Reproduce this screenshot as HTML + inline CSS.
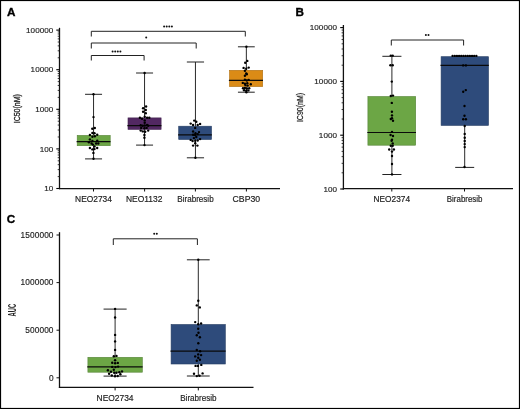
<!DOCTYPE html><html><head><meta charset="utf-8"><style>html,body{margin:0;padding:0;background:#fff;}svg{display:block;will-change:transform;}text{font-family:"Liberation Sans", sans-serif;}</style></head><body>
<svg width="520" height="409" viewBox="0 0 520 409">
<rect x="0" y="0" width="520" height="409" fill="#fff"/>
<rect x="0.5" y="0.5" width="519" height="408" fill="none" stroke="#000" stroke-width="1.2"/>
<text x="7.1" y="15.8" text-anchor="start" font-size="11.7" font-weight="bold" fill="#000" stroke="#000" stroke-width="0.35">A</text>
<line x1="59.50" y1="27.80" x2="59.50" y2="189.20" stroke="#111" stroke-width="1.3"/>
<line x1="56.30" y1="188.50" x2="59.50" y2="188.50" stroke="#000" stroke-width="1.1"/>
<text x="53.35" y="191.20" text-anchor="end" font-size="8.1" letter-spacing="0.05" fill="#222" stroke="#222" stroke-width="0.15">10</text>
<line x1="57.70" y1="176.58" x2="59.50" y2="176.58" stroke="#222" stroke-width="0.9"/>
<line x1="57.70" y1="169.61" x2="59.50" y2="169.61" stroke="#222" stroke-width="0.9"/>
<line x1="57.70" y1="164.66" x2="59.50" y2="164.66" stroke="#222" stroke-width="0.9"/>
<line x1="57.70" y1="160.82" x2="59.50" y2="160.82" stroke="#222" stroke-width="0.9"/>
<line x1="57.70" y1="157.69" x2="59.50" y2="157.69" stroke="#222" stroke-width="0.9"/>
<line x1="57.70" y1="155.03" x2="59.50" y2="155.03" stroke="#222" stroke-width="0.9"/>
<line x1="57.70" y1="152.74" x2="59.50" y2="152.74" stroke="#222" stroke-width="0.9"/>
<line x1="57.70" y1="150.71" x2="59.50" y2="150.71" stroke="#222" stroke-width="0.9"/>
<line x1="56.30" y1="148.90" x2="59.50" y2="148.90" stroke="#000" stroke-width="1.1"/>
<text x="53.35" y="151.60" text-anchor="end" font-size="8.1" letter-spacing="0.05" fill="#222" stroke="#222" stroke-width="0.15">100</text>
<line x1="57.70" y1="136.98" x2="59.50" y2="136.98" stroke="#222" stroke-width="0.9"/>
<line x1="57.70" y1="130.01" x2="59.50" y2="130.01" stroke="#222" stroke-width="0.9"/>
<line x1="57.70" y1="125.06" x2="59.50" y2="125.06" stroke="#222" stroke-width="0.9"/>
<line x1="57.70" y1="121.22" x2="59.50" y2="121.22" stroke="#222" stroke-width="0.9"/>
<line x1="57.70" y1="118.09" x2="59.50" y2="118.09" stroke="#222" stroke-width="0.9"/>
<line x1="57.70" y1="115.43" x2="59.50" y2="115.43" stroke="#222" stroke-width="0.9"/>
<line x1="57.70" y1="113.14" x2="59.50" y2="113.14" stroke="#222" stroke-width="0.9"/>
<line x1="57.70" y1="111.11" x2="59.50" y2="111.11" stroke="#222" stroke-width="0.9"/>
<line x1="56.30" y1="109.30" x2="59.50" y2="109.30" stroke="#000" stroke-width="1.1"/>
<text x="53.35" y="112.00" text-anchor="end" font-size="8.1" letter-spacing="0.05" fill="#222" stroke="#222" stroke-width="0.15">1000</text>
<line x1="57.70" y1="97.38" x2="59.50" y2="97.38" stroke="#222" stroke-width="0.9"/>
<line x1="57.70" y1="90.41" x2="59.50" y2="90.41" stroke="#222" stroke-width="0.9"/>
<line x1="57.70" y1="85.46" x2="59.50" y2="85.46" stroke="#222" stroke-width="0.9"/>
<line x1="57.70" y1="81.62" x2="59.50" y2="81.62" stroke="#222" stroke-width="0.9"/>
<line x1="57.70" y1="78.49" x2="59.50" y2="78.49" stroke="#222" stroke-width="0.9"/>
<line x1="57.70" y1="75.83" x2="59.50" y2="75.83" stroke="#222" stroke-width="0.9"/>
<line x1="57.70" y1="73.54" x2="59.50" y2="73.54" stroke="#222" stroke-width="0.9"/>
<line x1="57.70" y1="71.51" x2="59.50" y2="71.51" stroke="#222" stroke-width="0.9"/>
<line x1="56.30" y1="69.70" x2="59.50" y2="69.70" stroke="#000" stroke-width="1.1"/>
<text x="53.35" y="72.40" text-anchor="end" font-size="8.1" letter-spacing="0.05" fill="#222" stroke="#222" stroke-width="0.15">10000</text>
<line x1="57.70" y1="57.78" x2="59.50" y2="57.78" stroke="#222" stroke-width="0.9"/>
<line x1="57.70" y1="50.81" x2="59.50" y2="50.81" stroke="#222" stroke-width="0.9"/>
<line x1="57.70" y1="45.86" x2="59.50" y2="45.86" stroke="#222" stroke-width="0.9"/>
<line x1="57.70" y1="42.02" x2="59.50" y2="42.02" stroke="#222" stroke-width="0.9"/>
<line x1="57.70" y1="38.89" x2="59.50" y2="38.89" stroke="#222" stroke-width="0.9"/>
<line x1="57.70" y1="36.23" x2="59.50" y2="36.23" stroke="#222" stroke-width="0.9"/>
<line x1="57.70" y1="33.94" x2="59.50" y2="33.94" stroke="#222" stroke-width="0.9"/>
<line x1="57.70" y1="31.91" x2="59.50" y2="31.91" stroke="#222" stroke-width="0.9"/>
<line x1="56.30" y1="30.10" x2="59.50" y2="30.10" stroke="#000" stroke-width="1.1"/>
<text x="53.35" y="32.80" text-anchor="end" font-size="8.1" letter-spacing="0.05" fill="#222" stroke="#222" stroke-width="0.15">100000</text>
<line x1="58.90" y1="188.60" x2="280.00" y2="188.60" stroke="#111" stroke-width="1.3"/>
<line x1="93.50" y1="188.60" x2="93.50" y2="191.50" stroke="#111" stroke-width="1"/>
<text x="93.5" y="202" text-anchor="middle" font-size="8.6" textLength="36.80" lengthAdjust="spacingAndGlyphs" fill="#222" stroke="#222" stroke-width="0.18">NEO2734</text>
<line x1="144.60" y1="188.60" x2="144.60" y2="191.50" stroke="#111" stroke-width="1"/>
<text x="144.2" y="202" text-anchor="middle" font-size="8.6" textLength="36.45" lengthAdjust="spacingAndGlyphs" fill="#222" stroke="#222" stroke-width="0.18">NEO1132</text>
<line x1="195.40" y1="188.60" x2="195.40" y2="191.50" stroke="#111" stroke-width="1"/>
<text x="195.5" y="202" text-anchor="middle" font-size="8.6" textLength="36.30" lengthAdjust="spacingAndGlyphs" fill="#222" stroke="#222" stroke-width="0.18">Birabresib</text>
<line x1="246.40" y1="188.60" x2="246.40" y2="191.50" stroke="#111" stroke-width="1"/>
<text x="246.35" y="202" text-anchor="middle" font-size="8.6" textLength="27.60" lengthAdjust="spacingAndGlyphs" fill="#222" stroke="#222" stroke-width="0.18">CBP30</text>
<text transform="translate(20.1,108.7) rotate(-90) scale(0.78,1)" text-anchor="middle" font-size="9" fill="#222" stroke="#222" stroke-width="0.3">IC50(nM)</text>
<line x1="93.55" y1="94.30" x2="93.55" y2="158.90" stroke="#2a2a2a" stroke-width="1"/>
<rect x="77.20" y="135.40" width="33.00" height="10.30" fill="#6ca645" stroke="#568437" stroke-width="0.6"/>
<line x1="76.60" y1="141.50" x2="110.50" y2="141.50" stroke="#0a0a0a" stroke-width="1.25"/>
<line x1="85.05" y1="94.30" x2="102.05" y2="94.30" stroke="#222" stroke-width="1"/>
<line x1="85.05" y1="158.90" x2="102.05" y2="158.90" stroke="#222" stroke-width="1"/>
<line x1="144.55" y1="73.00" x2="144.55" y2="145.10" stroke="#2a2a2a" stroke-width="1"/>
<rect x="128.00" y="117.90" width="33.10" height="11.50" fill="#522862" stroke="#41204e" stroke-width="0.6"/>
<line x1="127.40" y1="125.50" x2="161.40" y2="125.50" stroke="#0a0a0a" stroke-width="1.25"/>
<line x1="136.05" y1="73.00" x2="153.05" y2="73.00" stroke="#222" stroke-width="1"/>
<line x1="136.05" y1="145.10" x2="153.05" y2="145.10" stroke="#222" stroke-width="1"/>
<line x1="195.45" y1="62.00" x2="195.45" y2="157.80" stroke="#2a2a2a" stroke-width="1"/>
<rect x="178.70" y="126.20" width="32.80" height="13.30" fill="#2e4b7b" stroke="#243c62" stroke-width="0.6"/>
<line x1="178.10" y1="134.80" x2="211.80" y2="134.80" stroke="#0a0a0a" stroke-width="1.25"/>
<line x1="186.85" y1="62.00" x2="204.05" y2="62.00" stroke="#222" stroke-width="1"/>
<line x1="186.85" y1="157.80" x2="204.05" y2="157.80" stroke="#222" stroke-width="1"/>
<line x1="246.35" y1="46.80" x2="246.35" y2="92.20" stroke="#2a2a2a" stroke-width="1"/>
<rect x="229.50" y="70.30" width="33.20" height="16.30" fill="#db8b16" stroke="#af6f11" stroke-width="0.6"/>
<line x1="228.90" y1="80.40" x2="263.00" y2="80.40" stroke="#0a0a0a" stroke-width="1.25"/>
<line x1="237.95" y1="46.80" x2="254.75" y2="46.80" stroke="#222" stroke-width="1"/>
<line x1="237.95" y1="92.20" x2="254.75" y2="92.20" stroke="#222" stroke-width="1"/>
<circle cx="93.50" cy="94.30" r="1.2" fill="#000"/>
<circle cx="93.50" cy="117.10" r="1.2" fill="#000"/>
<circle cx="92.30" cy="128.80" r="1.2" fill="#000"/>
<circle cx="94.80" cy="128.00" r="1.2" fill="#000"/>
<circle cx="92.40" cy="133.00" r="1.2" fill="#000"/>
<circle cx="94.50" cy="133.20" r="1.2" fill="#000"/>
<circle cx="89.90" cy="135.00" r="1.2" fill="#000"/>
<circle cx="97.20" cy="134.80" r="1.2" fill="#000"/>
<circle cx="92.40" cy="136.80" r="1.2" fill="#000"/>
<circle cx="94.80" cy="136.30" r="1.2" fill="#000"/>
<circle cx="89.90" cy="139.40" r="1.2" fill="#000"/>
<circle cx="97.20" cy="140.60" r="1.2" fill="#000"/>
<circle cx="92.40" cy="140.90" r="1.2" fill="#000"/>
<circle cx="88.90" cy="142.30" r="1.2" fill="#000"/>
<circle cx="91.60" cy="143.50" r="1.2" fill="#000"/>
<circle cx="92.90" cy="144.60" r="1.2" fill="#000"/>
<circle cx="96.10" cy="143.50" r="1.2" fill="#000"/>
<circle cx="98.30" cy="143.50" r="1.2" fill="#000"/>
<circle cx="94.50" cy="146.50" r="1.2" fill="#000"/>
<circle cx="89.90" cy="148.00" r="1.2" fill="#000"/>
<circle cx="92.40" cy="149.40" r="1.2" fill="#000"/>
<circle cx="94.50" cy="149.10" r="1.2" fill="#000"/>
<circle cx="97.20" cy="148.00" r="1.2" fill="#000"/>
<circle cx="93.40" cy="152.90" r="1.2" fill="#000"/>
<circle cx="93.50" cy="158.80" r="1.2" fill="#000"/>
<circle cx="144.60" cy="73.00" r="1.2" fill="#000"/>
<circle cx="146.10" cy="106.50" r="1.2" fill="#000"/>
<circle cx="143.10" cy="108.30" r="1.2" fill="#000"/>
<circle cx="145.80" cy="110.00" r="1.2" fill="#000"/>
<circle cx="143.10" cy="111.80" r="1.2" fill="#000"/>
<circle cx="145.80" cy="113.20" r="1.2" fill="#000"/>
<circle cx="144.70" cy="116.70" r="1.2" fill="#000"/>
<circle cx="139.90" cy="117.70" r="1.2" fill="#000"/>
<circle cx="142.00" cy="118.80" r="1.2" fill="#000"/>
<circle cx="147.10" cy="117.70" r="1.2" fill="#000"/>
<circle cx="149.30" cy="117.70" r="1.2" fill="#000"/>
<circle cx="144.70" cy="120.40" r="1.2" fill="#000"/>
<circle cx="144.70" cy="122.80" r="1.2" fill="#000"/>
<circle cx="140.70" cy="125.20" r="1.2" fill="#000"/>
<circle cx="142.60" cy="125.80" r="1.2" fill="#000"/>
<circle cx="144.70" cy="125.50" r="1.2" fill="#000"/>
<circle cx="147.10" cy="124.90" r="1.2" fill="#000"/>
<circle cx="148.20" cy="125.80" r="1.2" fill="#000"/>
<circle cx="141.20" cy="127.90" r="1.2" fill="#000"/>
<circle cx="144.40" cy="128.20" r="1.2" fill="#000"/>
<circle cx="146.60" cy="127.90" r="1.2" fill="#000"/>
<circle cx="140.70" cy="130.60" r="1.2" fill="#000"/>
<circle cx="142.80" cy="131.40" r="1.2" fill="#000"/>
<circle cx="145.20" cy="131.80" r="1.2" fill="#000"/>
<circle cx="148.20" cy="130.60" r="1.2" fill="#000"/>
<circle cx="144.40" cy="135.00" r="1.2" fill="#000"/>
<circle cx="144.40" cy="137.70" r="1.2" fill="#000"/>
<circle cx="144.50" cy="145.10" r="1.2" fill="#000"/>
<circle cx="194.20" cy="120.60" r="1.2" fill="#000"/>
<circle cx="196.30" cy="121.70" r="1.2" fill="#000"/>
<circle cx="190.70" cy="123.60" r="1.2" fill="#000"/>
<circle cx="193.10" cy="125.00" r="1.2" fill="#000"/>
<circle cx="197.70" cy="125.00" r="1.2" fill="#000"/>
<circle cx="200.10" cy="123.90" r="1.2" fill="#000"/>
<circle cx="195.20" cy="127.90" r="1.2" fill="#000"/>
<circle cx="193.10" cy="131.50" r="1.2" fill="#000"/>
<circle cx="199.00" cy="132.10" r="1.2" fill="#000"/>
<circle cx="195.50" cy="133.30" r="1.2" fill="#000"/>
<circle cx="193.10" cy="134.70" r="1.2" fill="#000"/>
<circle cx="195.10" cy="135.10" r="1.2" fill="#000"/>
<circle cx="197.70" cy="134.10" r="1.2" fill="#000"/>
<circle cx="196.30" cy="137.00" r="1.2" fill="#000"/>
<circle cx="193.90" cy="138.10" r="1.2" fill="#000"/>
<circle cx="190.70" cy="139.90" r="1.2" fill="#000"/>
<circle cx="192.60" cy="141.00" r="1.2" fill="#000"/>
<circle cx="195.20" cy="140.80" r="1.2" fill="#000"/>
<circle cx="197.70" cy="140.50" r="1.2" fill="#000"/>
<circle cx="200.10" cy="139.10" r="1.2" fill="#000"/>
<circle cx="195.20" cy="143.20" r="1.2" fill="#000"/>
<circle cx="193.10" cy="145.60" r="1.2" fill="#000"/>
<circle cx="197.40" cy="145.60" r="1.2" fill="#000"/>
<circle cx="195.40" cy="157.80" r="1.2" fill="#000"/>
<circle cx="246.40" cy="46.80" r="1.2" fill="#000"/>
<circle cx="247.30" cy="60.90" r="1.2" fill="#000"/>
<circle cx="245.20" cy="62.80" r="1.2" fill="#000"/>
<circle cx="243.60" cy="67.90" r="1.2" fill="#000"/>
<circle cx="246.20" cy="68.70" r="1.2" fill="#000"/>
<circle cx="248.70" cy="67.60" r="1.2" fill="#000"/>
<circle cx="244.90" cy="70.70" r="1.2" fill="#000"/>
<circle cx="246.20" cy="73.50" r="1.2" fill="#000"/>
<circle cx="246.80" cy="74.30" r="1.2" fill="#000"/>
<circle cx="244.90" cy="75.80" r="1.2" fill="#000"/>
<circle cx="244.90" cy="79.70" r="1.2" fill="#000"/>
<circle cx="246.80" cy="80.50" r="1.2" fill="#000"/>
<circle cx="248.70" cy="79.90" r="1.2" fill="#000"/>
<circle cx="242.80" cy="82.90" r="1.2" fill="#000"/>
<circle cx="244.90" cy="83.70" r="1.2" fill="#000"/>
<circle cx="247.30" cy="83.20" r="1.2" fill="#000"/>
<circle cx="250.80" cy="84.20" r="1.2" fill="#000"/>
<circle cx="245.40" cy="85.10" r="1.2" fill="#000"/>
<circle cx="247.60" cy="85.60" r="1.2" fill="#000"/>
<circle cx="243.00" cy="88.30" r="1.2" fill="#000"/>
<circle cx="244.90" cy="88.00" r="1.2" fill="#000"/>
<circle cx="247.10" cy="88.50" r="1.2" fill="#000"/>
<circle cx="249.20" cy="88.30" r="1.2" fill="#000"/>
<circle cx="244.10" cy="90.20" r="1.2" fill="#000"/>
<circle cx="246.20" cy="90.70" r="1.2" fill="#000"/>
<circle cx="248.40" cy="90.40" r="1.2" fill="#000"/>
<circle cx="246.40" cy="92.20" r="1.2" fill="#000"/>
<path d="M91.3 36.5 V31.3 H245.3 V36.5" fill="none" stroke="#222" stroke-width="1"/>
<circle cx="164.10" cy="26.5" r="1.0" fill="#111"/>
<circle cx="166.70" cy="26.5" r="1.0" fill="#111"/>
<circle cx="169.30" cy="26.5" r="1.0" fill="#111"/>
<circle cx="171.90" cy="26.5" r="1.0" fill="#111"/>
<path d="M91.3 48.5 V43 H196.2 V48.5" fill="none" stroke="#222" stroke-width="1"/>
<circle cx="146.20" cy="37.5" r="1.0" fill="#111"/>
<path d="M91.3 60.5 V55.5 H144.1 V60.5" fill="none" stroke="#222" stroke-width="1"/>
<circle cx="112.60" cy="51.5" r="1.0" fill="#111"/>
<circle cx="115.20" cy="51.5" r="1.0" fill="#111"/>
<circle cx="117.80" cy="51.5" r="1.0" fill="#111"/>
<circle cx="120.40" cy="51.5" r="1.0" fill="#111"/>
<text x="295.6" y="15.5" text-anchor="start" font-size="11.7" font-weight="bold" fill="#000" stroke="#000" stroke-width="0.35">B</text>
<line x1="343.40" y1="25.00" x2="343.40" y2="189.60" stroke="#111" stroke-width="1.3"/>
<line x1="340.20" y1="189.00" x2="343.40" y2="189.00" stroke="#000" stroke-width="1.1"/>
<text x="337.05" y="191.70" text-anchor="end" font-size="8.1" letter-spacing="0.05" fill="#222" stroke="#222" stroke-width="0.15">100</text>
<line x1="341.60" y1="172.80" x2="343.40" y2="172.80" stroke="#222" stroke-width="0.9"/>
<line x1="341.60" y1="163.33" x2="343.40" y2="163.33" stroke="#222" stroke-width="0.9"/>
<line x1="341.60" y1="156.61" x2="343.40" y2="156.61" stroke="#222" stroke-width="0.9"/>
<line x1="341.60" y1="151.40" x2="343.40" y2="151.40" stroke="#222" stroke-width="0.9"/>
<line x1="341.60" y1="147.14" x2="343.40" y2="147.14" stroke="#222" stroke-width="0.9"/>
<line x1="341.60" y1="143.53" x2="343.40" y2="143.53" stroke="#222" stroke-width="0.9"/>
<line x1="341.60" y1="140.41" x2="343.40" y2="140.41" stroke="#222" stroke-width="0.9"/>
<line x1="341.60" y1="137.66" x2="343.40" y2="137.66" stroke="#222" stroke-width="0.9"/>
<line x1="340.20" y1="135.20" x2="343.40" y2="135.20" stroke="#000" stroke-width="1.1"/>
<text x="337.05" y="137.90" text-anchor="end" font-size="8.1" letter-spacing="0.05" fill="#222" stroke="#222" stroke-width="0.15">1000</text>
<line x1="341.60" y1="119.00" x2="343.40" y2="119.00" stroke="#222" stroke-width="0.9"/>
<line x1="341.60" y1="109.53" x2="343.40" y2="109.53" stroke="#222" stroke-width="0.9"/>
<line x1="341.60" y1="102.81" x2="343.40" y2="102.81" stroke="#222" stroke-width="0.9"/>
<line x1="341.60" y1="97.60" x2="343.40" y2="97.60" stroke="#222" stroke-width="0.9"/>
<line x1="341.60" y1="93.34" x2="343.40" y2="93.34" stroke="#222" stroke-width="0.9"/>
<line x1="341.60" y1="89.73" x2="343.40" y2="89.73" stroke="#222" stroke-width="0.9"/>
<line x1="341.60" y1="86.61" x2="343.40" y2="86.61" stroke="#222" stroke-width="0.9"/>
<line x1="341.60" y1="83.86" x2="343.40" y2="83.86" stroke="#222" stroke-width="0.9"/>
<line x1="340.20" y1="81.40" x2="343.40" y2="81.40" stroke="#000" stroke-width="1.1"/>
<text x="337.05" y="84.10" text-anchor="end" font-size="8.1" letter-spacing="0.05" fill="#222" stroke="#222" stroke-width="0.15">10000</text>
<line x1="341.60" y1="65.20" x2="343.40" y2="65.20" stroke="#222" stroke-width="0.9"/>
<line x1="341.60" y1="55.73" x2="343.40" y2="55.73" stroke="#222" stroke-width="0.9"/>
<line x1="341.60" y1="49.01" x2="343.40" y2="49.01" stroke="#222" stroke-width="0.9"/>
<line x1="341.60" y1="43.80" x2="343.40" y2="43.80" stroke="#222" stroke-width="0.9"/>
<line x1="341.60" y1="39.54" x2="343.40" y2="39.54" stroke="#222" stroke-width="0.9"/>
<line x1="341.60" y1="35.93" x2="343.40" y2="35.93" stroke="#222" stroke-width="0.9"/>
<line x1="341.60" y1="32.81" x2="343.40" y2="32.81" stroke="#222" stroke-width="0.9"/>
<line x1="341.60" y1="30.06" x2="343.40" y2="30.06" stroke="#222" stroke-width="0.9"/>
<line x1="340.20" y1="27.60" x2="343.40" y2="27.60" stroke="#000" stroke-width="1.1"/>
<text x="337.05" y="30.30" text-anchor="end" font-size="8.1" letter-spacing="0.05" fill="#222" stroke="#222" stroke-width="0.15">100000</text>
<line x1="342.80" y1="188.60" x2="513.00" y2="188.60" stroke="#111" stroke-width="1.3"/>
<line x1="391.80" y1="188.60" x2="391.80" y2="191.50" stroke="#111" stroke-width="1"/>
<text x="391.8" y="201.8" text-anchor="middle" font-size="8.6" textLength="36.50" lengthAdjust="spacingAndGlyphs" fill="#222" stroke="#222" stroke-width="0.18">NEO2374</text>
<line x1="464.50" y1="188.60" x2="464.50" y2="191.50" stroke="#111" stroke-width="1"/>
<text x="464.65" y="201.8" text-anchor="middle" font-size="8.6" textLength="35.60" lengthAdjust="spacingAndGlyphs" fill="#222" stroke="#222" stroke-width="0.18">Birabresib</text>
<text transform="translate(303.4,107.5) rotate(-90) scale(0.78,1)" text-anchor="middle" font-size="9" fill="#222" stroke="#222" stroke-width="0.25">IC90(nM)</text>
<line x1="391.90" y1="56.30" x2="391.90" y2="174.50" stroke="#2a2a2a" stroke-width="1"/>
<rect x="367.90" y="96.50" width="47.80" height="48.70" fill="#6ca645" stroke="#568437" stroke-width="0.6"/>
<line x1="367.30" y1="132.40" x2="416.00" y2="132.40" stroke="#0a0a0a" stroke-width="1.05"/>
<line x1="382.35" y1="56.30" x2="401.45" y2="56.30" stroke="#222" stroke-width="1"/>
<line x1="382.35" y1="174.50" x2="401.45" y2="174.50" stroke="#222" stroke-width="1"/>
<line x1="464.70" y1="56.20" x2="464.70" y2="167.40" stroke="#2a2a2a" stroke-width="1"/>
<rect x="441.10" y="56.70" width="47.40" height="68.70" fill="#2e4b7b" stroke="#243c62" stroke-width="0.6"/>
<line x1="440.50" y1="65.40" x2="488.80" y2="65.40" stroke="#0a0a0a" stroke-width="1.1"/>
<line x1="455.20" y1="56.20" x2="474.20" y2="56.20" stroke="#222" stroke-width="1"/>
<line x1="455.20" y1="167.40" x2="474.20" y2="167.40" stroke="#222" stroke-width="1"/>
<circle cx="390.80" cy="55.60" r="1.2" fill="#000"/>
<circle cx="392.70" cy="55.60" r="1.2" fill="#000"/>
<circle cx="390.40" cy="65.30" r="1.2" fill="#000"/>
<circle cx="392.70" cy="65.30" r="1.2" fill="#000"/>
<circle cx="391.80" cy="81.60" r="1.2" fill="#000"/>
<circle cx="390.80" cy="96.00" r="1.2" fill="#000"/>
<circle cx="393.00" cy="95.60" r="1.2" fill="#000"/>
<circle cx="391.80" cy="102.90" r="1.2" fill="#000"/>
<circle cx="391.90" cy="111.80" r="1.2" fill="#000"/>
<circle cx="392.00" cy="115.40" r="1.2" fill="#000"/>
<circle cx="390.80" cy="119.00" r="1.2" fill="#000"/>
<circle cx="392.00" cy="118.20" r="1.2" fill="#000"/>
<circle cx="393.00" cy="120.70" r="1.2" fill="#000"/>
<circle cx="392.00" cy="131.90" r="1.2" fill="#000"/>
<circle cx="390.60" cy="135.00" r="1.2" fill="#000"/>
<circle cx="393.00" cy="136.00" r="1.2" fill="#000"/>
<circle cx="392.00" cy="139.70" r="1.2" fill="#000"/>
<circle cx="391.60" cy="140.70" r="1.2" fill="#000"/>
<circle cx="392.70" cy="143.40" r="1.2" fill="#000"/>
<circle cx="390.80" cy="145.80" r="1.2" fill="#000"/>
<circle cx="392.70" cy="145.80" r="1.2" fill="#000"/>
<circle cx="389.20" cy="149.50" r="1.2" fill="#000"/>
<circle cx="393.90" cy="149.50" r="1.2" fill="#000"/>
<circle cx="392.00" cy="151.60" r="1.2" fill="#000"/>
<circle cx="392.00" cy="156.00" r="1.2" fill="#000"/>
<circle cx="392.00" cy="164.00" r="1.2" fill="#000"/>
<circle cx="392.00" cy="174.40" r="1.2" fill="#000"/>
<circle cx="452.60" cy="55.90" r="1.2" fill="#000"/>
<circle cx="454.76" cy="55.90" r="1.2" fill="#000"/>
<circle cx="456.92" cy="55.90" r="1.2" fill="#000"/>
<circle cx="459.08" cy="55.90" r="1.2" fill="#000"/>
<circle cx="461.24" cy="55.90" r="1.2" fill="#000"/>
<circle cx="463.40" cy="55.90" r="1.2" fill="#000"/>
<circle cx="465.56" cy="55.90" r="1.2" fill="#000"/>
<circle cx="467.72" cy="55.90" r="1.2" fill="#000"/>
<circle cx="469.88" cy="55.90" r="1.2" fill="#000"/>
<circle cx="472.04" cy="55.90" r="1.2" fill="#000"/>
<circle cx="474.20" cy="55.90" r="1.2" fill="#000"/>
<circle cx="476.36" cy="55.90" r="1.2" fill="#000"/>
<circle cx="463.20" cy="65.40" r="1.2" fill="#000"/>
<circle cx="465.90" cy="65.40" r="1.2" fill="#000"/>
<circle cx="465.80" cy="90.10" r="1.2" fill="#000"/>
<circle cx="463.20" cy="91.70" r="1.2" fill="#000"/>
<circle cx="464.50" cy="106.00" r="1.2" fill="#000"/>
<circle cx="464.50" cy="115.80" r="1.2" fill="#000"/>
<circle cx="463.20" cy="119.30" r="1.2" fill="#000"/>
<circle cx="465.90" cy="119.30" r="1.2" fill="#000"/>
<circle cx="464.70" cy="126.00" r="1.2" fill="#000"/>
<circle cx="464.70" cy="133.90" r="1.2" fill="#000"/>
<circle cx="464.70" cy="137.80" r="1.2" fill="#000"/>
<circle cx="464.70" cy="141.00" r="1.2" fill="#000"/>
<circle cx="464.70" cy="144.10" r="1.2" fill="#000"/>
<circle cx="464.70" cy="147.10" r="1.2" fill="#000"/>
<circle cx="464.50" cy="167.00" r="1.2" fill="#000"/>
<path d="M391.3 45.5 V40 H463.6 V45.5" fill="none" stroke="#222" stroke-width="1"/>
<circle cx="425.90" cy="35" r="1.0" fill="#111"/>
<circle cx="428.50" cy="35" r="1.0" fill="#111"/>
<text x="6.8" y="223.0" text-anchor="start" font-size="11.7" font-weight="bold" fill="#000" stroke="#000" stroke-width="0.35">C</text>
<line x1="59.50" y1="232.20" x2="59.50" y2="388.00" stroke="#111" stroke-width="1.3"/>
<line x1="56.50" y1="377.80" x2="59.50" y2="377.80" stroke="#111" stroke-width="1"/>
<text x="53.62" y="380.50" text-anchor="end" font-size="8.3" letter-spacing="0.12" fill="#222" stroke="#222" stroke-width="0.15">0</text>
<line x1="56.50" y1="330.20" x2="59.50" y2="330.20" stroke="#111" stroke-width="1"/>
<text x="53.62" y="332.90" text-anchor="end" font-size="8.3" letter-spacing="0.12" fill="#222" stroke="#222" stroke-width="0.15">500000</text>
<line x1="56.50" y1="282.60" x2="59.50" y2="282.60" stroke="#111" stroke-width="1"/>
<text x="53.62" y="285.30" text-anchor="end" font-size="8.3" letter-spacing="0.12" fill="#222" stroke="#222" stroke-width="0.15">1000000</text>
<line x1="56.50" y1="235.00" x2="59.50" y2="235.00" stroke="#111" stroke-width="1"/>
<text x="53.62" y="237.70" text-anchor="end" font-size="8.3" letter-spacing="0.12" fill="#222" stroke="#222" stroke-width="0.15">1500000</text>
<line x1="58.90" y1="387.40" x2="253.50" y2="387.40" stroke="#111" stroke-width="1.3"/>
<line x1="115.10" y1="387.40" x2="115.10" y2="390.40" stroke="#111" stroke-width="1"/>
<text x="115.05" y="401.2" text-anchor="middle" font-size="8.6" textLength="37.00" lengthAdjust="spacingAndGlyphs" fill="#222" stroke="#222" stroke-width="0.18">NEO2734</text>
<line x1="198.30" y1="387.40" x2="198.30" y2="390.40" stroke="#111" stroke-width="1"/>
<text x="198.35" y="401.2" text-anchor="middle" font-size="8.6" textLength="36.20" lengthAdjust="spacingAndGlyphs" fill="#222" stroke="#222" stroke-width="0.18">Birabresib</text>
<text transform="translate(15.6,310.1) rotate(-90) scale(0.54,1)" text-anchor="middle" font-size="10.8" font-weight="bold" fill="#222">AUC</text>
<line x1="115.10" y1="309.10" x2="115.10" y2="376.10" stroke="#2a2a2a" stroke-width="1"/>
<rect x="87.90" y="357.30" width="54.40" height="14.90" fill="#6ca645" stroke="#568437" stroke-width="0.6"/>
<line x1="87.30" y1="366.80" x2="142.60" y2="366.80" stroke="#0a0a0a" stroke-width="1.2"/>
<line x1="103.55" y1="309.10" x2="126.65" y2="309.10" stroke="#222" stroke-width="1"/>
<line x1="103.55" y1="376.10" x2="126.65" y2="376.10" stroke="#222" stroke-width="1"/>
<line x1="198.30" y1="259.80" x2="198.30" y2="376.00" stroke="#2a2a2a" stroke-width="1"/>
<rect x="171.10" y="324.50" width="54.20" height="39.50" fill="#2e4b7b" stroke="#243c62" stroke-width="0.6"/>
<line x1="170.50" y1="351.10" x2="225.60" y2="351.10" stroke="#0a0a0a" stroke-width="1.1"/>
<line x1="186.90" y1="259.80" x2="209.70" y2="259.80" stroke="#222" stroke-width="1"/>
<line x1="186.90" y1="376.00" x2="209.70" y2="376.00" stroke="#222" stroke-width="1"/>
<circle cx="115.10" cy="308.90" r="1.2" fill="#000"/>
<circle cx="115.10" cy="317.50" r="1.2" fill="#000"/>
<circle cx="115.10" cy="334.90" r="1.2" fill="#000"/>
<circle cx="115.10" cy="341.40" r="1.2" fill="#000"/>
<circle cx="115.10" cy="349.90" r="1.2" fill="#000"/>
<circle cx="113.80" cy="356.30" r="1.2" fill="#000"/>
<circle cx="116.50" cy="355.90" r="1.2" fill="#000"/>
<circle cx="115.10" cy="360.20" r="1.2" fill="#000"/>
<circle cx="112.20" cy="362.80" r="1.2" fill="#000"/>
<circle cx="115.10" cy="363.30" r="1.2" fill="#000"/>
<circle cx="117.80" cy="362.90" r="1.2" fill="#000"/>
<circle cx="112.20" cy="366.90" r="1.2" fill="#000"/>
<circle cx="115.50" cy="367.10" r="1.2" fill="#000"/>
<circle cx="118.10" cy="366.60" r="1.2" fill="#000"/>
<circle cx="107.90" cy="370.30" r="1.2" fill="#000"/>
<circle cx="113.80" cy="369.70" r="1.2" fill="#000"/>
<circle cx="111.00" cy="371.80" r="1.2" fill="#000"/>
<circle cx="114.20" cy="372.80" r="1.2" fill="#000"/>
<circle cx="116.50" cy="372.80" r="1.2" fill="#000"/>
<circle cx="119.30" cy="372.20" r="1.2" fill="#000"/>
<circle cx="122.00" cy="371.40" r="1.2" fill="#000"/>
<circle cx="109.10" cy="373.80" r="1.2" fill="#000"/>
<circle cx="120.40" cy="374.20" r="1.2" fill="#000"/>
<circle cx="111.80" cy="375.50" r="1.2" fill="#000"/>
<circle cx="115.00" cy="376.30" r="1.2" fill="#000"/>
<circle cx="117.70" cy="376.00" r="1.2" fill="#000"/>
<circle cx="198.30" cy="259.80" r="1.2" fill="#000"/>
<circle cx="198.30" cy="300.70" r="1.2" fill="#000"/>
<circle cx="196.80" cy="305.40" r="1.2" fill="#000"/>
<circle cx="199.80" cy="307.40" r="1.2" fill="#000"/>
<circle cx="195.20" cy="322.10" r="1.2" fill="#000"/>
<circle cx="198.20" cy="324.20" r="1.2" fill="#000"/>
<circle cx="201.10" cy="323.50" r="1.2" fill="#000"/>
<circle cx="198.20" cy="328.80" r="1.2" fill="#000"/>
<circle cx="198.50" cy="332.80" r="1.2" fill="#000"/>
<circle cx="196.80" cy="335.20" r="1.2" fill="#000"/>
<circle cx="199.90" cy="337.20" r="1.2" fill="#000"/>
<circle cx="198.30" cy="343.30" r="1.2" fill="#000"/>
<circle cx="196.80" cy="349.90" r="1.2" fill="#000"/>
<circle cx="200.10" cy="351.30" r="1.2" fill="#000"/>
<circle cx="198.20" cy="354.40" r="1.2" fill="#000"/>
<circle cx="201.10" cy="355.10" r="1.2" fill="#000"/>
<circle cx="195.20" cy="356.40" r="1.2" fill="#000"/>
<circle cx="198.20" cy="357.70" r="1.2" fill="#000"/>
<circle cx="199.90" cy="359.80" r="1.2" fill="#000"/>
<circle cx="196.80" cy="360.70" r="1.2" fill="#000"/>
<circle cx="195.60" cy="365.90" r="1.2" fill="#000"/>
<circle cx="198.00" cy="365.90" r="1.2" fill="#000"/>
<circle cx="201.30" cy="364.90" r="1.2" fill="#000"/>
<circle cx="194.00" cy="373.80" r="1.2" fill="#000"/>
<circle cx="202.60" cy="373.40" r="1.2" fill="#000"/>
<circle cx="196.80" cy="376.10" r="1.2" fill="#000"/>
<circle cx="199.50" cy="375.70" r="1.2" fill="#000"/>
<path d="M113.3 245 V238.8 H197.4 V245" fill="none" stroke="#222" stroke-width="1"/>
<circle cx="154.20" cy="233.8" r="1.0" fill="#111"/>
<circle cx="156.80" cy="233.8" r="1.0" fill="#111"/>
</svg></body></html>
